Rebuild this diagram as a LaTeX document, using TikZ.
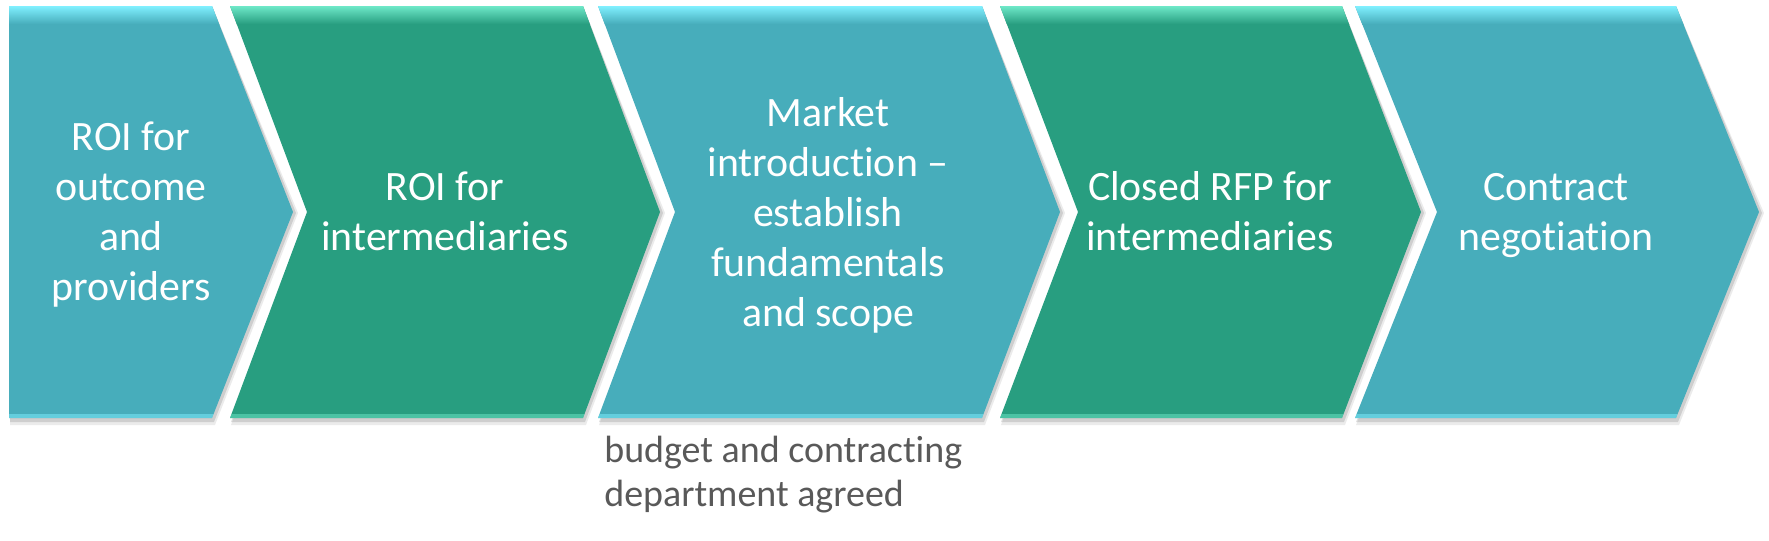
\documentclass[tikz,border=0pt]{standalone}
\usepackage{fontspec}
\setmainfont{Carlito}[Ligatures={NoCommon}]
\usepackage{tikz}
\definecolor{stepteal}{RGB}{71,173,187}
\definecolor{steptealhi}{RGB}{128,240,255}
\definecolor{stepgreen}{RGB}{40,158,128}
\definecolor{stepgreenhi}{RGB}{110,232,200}
\definecolor{notegray}{RGB}{89,89,89}

\begin{document}
\begin{tikzpicture}[x=0.02cm, y=-0.02cm,
		steptext/.style={text=white, align=center, inner sep=0pt,
			font=\fontsize{23.8}{28.45}\selectfont},
		notetext/.style={text=notegray, align=left, inner sep=0pt,
			font=\fontsize{21.6}{25}\selectfont}]
		\useasboundingbox (0,0) rectangle (1769,541);
		% chevrons: left, notch, right, tip, colour, highlight
		\foreach \l/\n/\r/\t/\c/\h in {9/9/212/293/stepteal/steptealhi,
				230/307/583/660/stepgreen/stepgreenhi,
				598/675/982/1060/stepteal/steptealhi,
				1000/1078/1342/1421/stepgreen/stepgreenhi,
				1355/1437/1676/1759/stepteal/steptealhi}
		{
			% shadow
			\fill[black, opacity=0.08]
				(\l+1,9) -- (\r+1,9) -- (\t+5,213) -- (\r+3,425) -- (\l+1,425) -- (\n+5,213) -- cycle;
			\fill[black, opacity=0.12]
				(\l+1,8) -- (\r+1,8) -- (\t+3,213) -- (\r+2,422) -- (\l+1,422) -- (\n+3,213) -- cycle;
			% body
			\fill[\c]
				(\l,6) -- (\r,6) -- (\t,212) -- (\r,418) -- (\l,418) -- (\n,212) -- cycle;
			% bevel
			\begin{scope}
				\clip (\l,6) -- (\r,6) -- (\t,212) -- (\r,418) -- (\l,418) -- (\n,212) -- cycle;
				\shade[top color=\h, bottom color=\c] (\l,6) rectangle (\t,24);
				\fill[\h, opacity=0.5] (\l,414) rectangle (\t,418);
			\end{scope}
		}
		% labels
		\node[steptext] (roi) at (131,215) {ROI for\\outcome\\and\\providers};
		\node[steptext] (roiint) at (445,211) {ROI for\\intermediaries};
		\node[steptext] (market) at (828,215) {Market\\introduction --\\establish\\fundamentals\\and scope};
		\node[steptext] (rfp) at (1210,211) {Closed RFP for\\intermediaries};
		\node[steptext] (contract) at (1556,216) {Contract\\negotiation};
		\node[notetext, anchor=west] (budget) at (604,475) {budget and contracting\\department agreed};
	\end{tikzpicture}
\end{document}
